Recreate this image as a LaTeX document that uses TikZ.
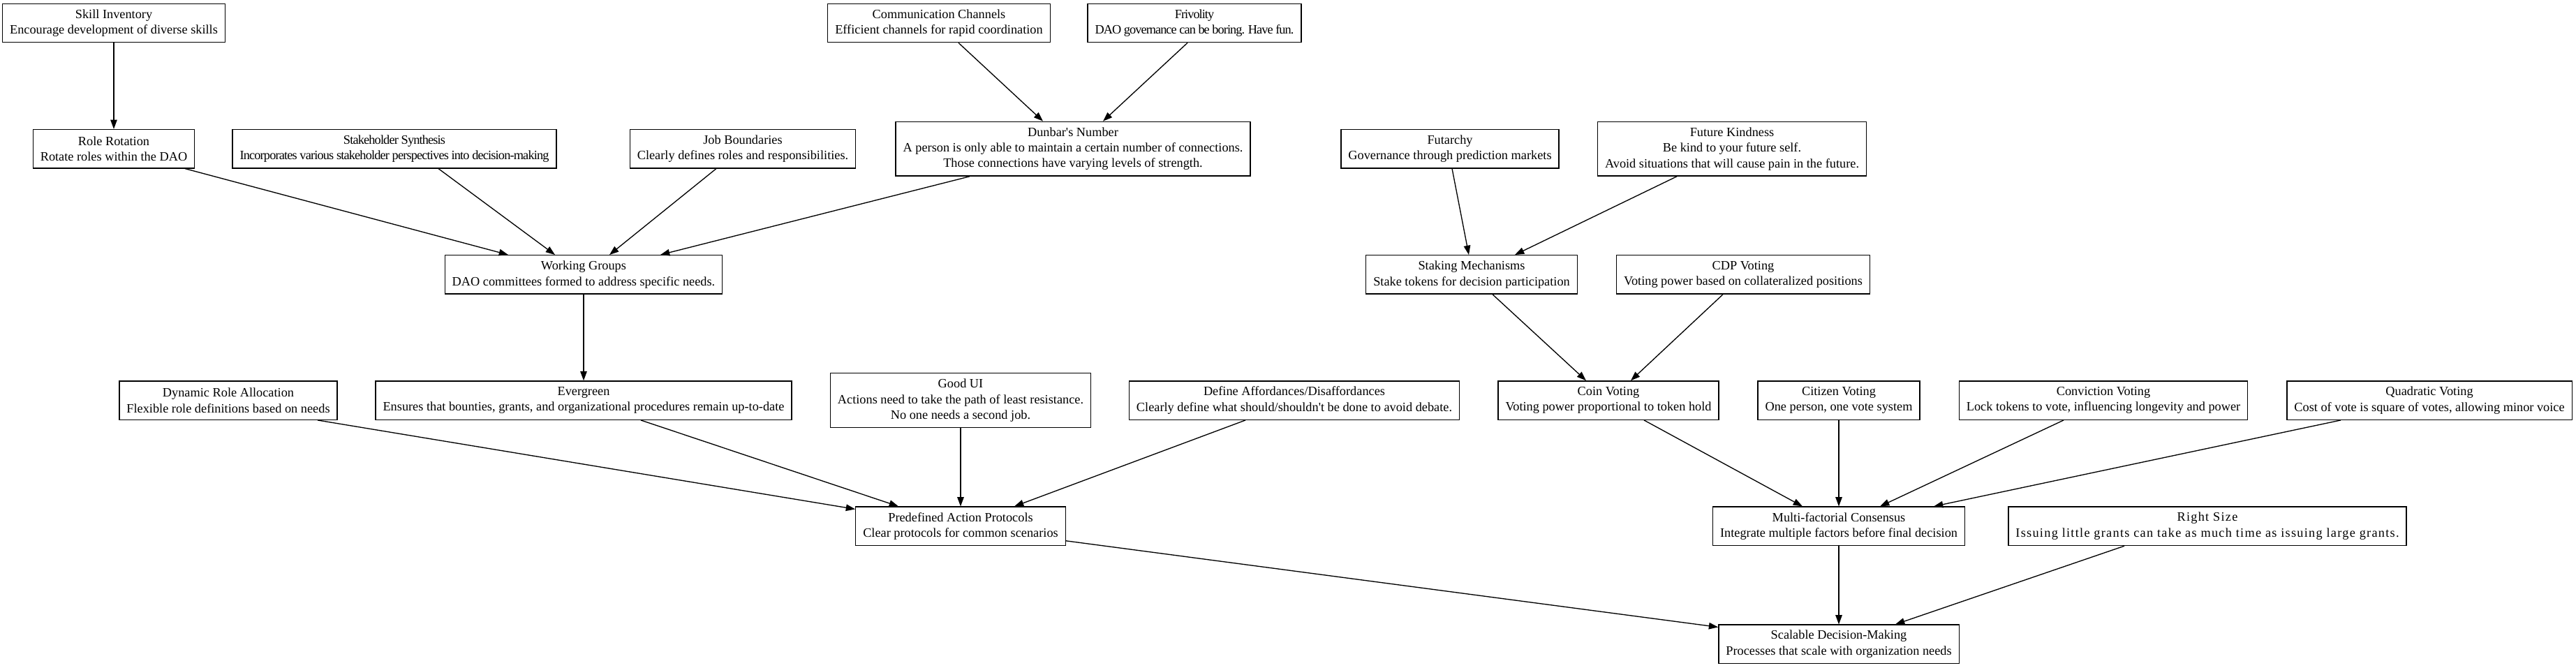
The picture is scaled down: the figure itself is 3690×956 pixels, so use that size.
\documentclass[tikz,border=0pt]{standalone}
\usepackage{fontspec}
\setmainfont{Liberation Serif}[Ligatures=TeXOff]
\usetikzlibrary{arrows.meta}
\begin{document}
\begin{tikzpicture}[x=1pt,y=-1pt,
  box/.style={draw, line width=1.33pt, font=\fontsize{18.3pt}{22.4pt}\selectfont, align=center, inner xsep=10.5pt, inner ysep=5pt, minimum height=55.4pt},
  tall/.style={minimum height=77.8pt},
  track/.style={font=\fontsize{18.3pt}{22.4pt}\selectfont\addfontfeatures{LetterSpace=#1}},
  arr/.style={-{Triangle[length=13.3pt,width=9.5pt]}, line width=1.33pt}]
\fill[white] (0,0) rectangle (3690,956);
\useasboundingbox (0,0) rectangle (3690,956);
% rank 0
\node[box] (si) at (163,33) {Skill Inventory\\Encourage development of diverse skills};
\node[box] (cc) at (1345,33) {Communication Channels\\Efficient channels for rapid coordination};
\node[box,track=-5.2] (fr) at (1711,33) {Frivolity\\DAO governance can be boring. Have fun.};
% rank 1
\node[box] (rr) at (163,213.2) {Role Rotation\\Rotate roles within the DAO};
\node[box,track=-4.6] (ss) at (565,213.2) {Stakeholder Synthesis\\Incorporates various stakeholder perspectives into decision-making};
\node[box] (jb) at (1064,213.2) {Job Boundaries\\Clearly defines roles and responsibilities.};
\node[box,tall] (dn) at (1537,213.2) {Dunbar's Number\\A person is only able to maintain a certain number of connections.\\Those connections have varying levels of strength.};
\node[box] (fu) at (2077,213.2) {Futarchy\\Governance through prediction markets};
\node[box,tall] (fk) at (2481,213.2) {Future Kindness\\Be kind to your future self.\\Avoid situations that will cause pain in the future.};
% rank 2
\node[box] (wg) at (836,393.4) {Working Groups\\DAO committees formed to address specific needs.};
\node[box] (sm) at (2108,393.4) {Staking Mechanisms\\Stake tokens for decision participation};
\node[box] (cdp) at (2497,393.4) {CDP Voting\\Voting power based on collateralized positions};
% rank 3
\node[box] (dra) at (327,573.6) {Dynamic Role Allocation\\Flexible role definitions based on needs};
\node[box] (ev) at (836,573.6) {Evergreen\\Ensures that bounties, grants, and organizational procedures remain up-to-date};
\node[box,tall] (gui) at (1376,573.6) {Good UI\\Actions need to take the path of least resistance.\\No one needs a second job.};
\node[box] (da) at (1854,573.6) {Define Affordances/Disaffordances\\Clearly define what should/shouldn't be done to avoid debate.};
\node[box] (cv) at (2304,573.6) {Coin Voting\\Voting power proportional to token hold};
\node[box] (civ) at (2634,573.6) {Citizen Voting\\One person, one vote system};
\node[box] (conv) at (3013,573.6) {Conviction Voting\\Lock tokens to vote, influencing longevity and power};
\node[box] (qv) at (3480,573.6) {Quadratic Voting\\Cost of vote is square of votes, allowing minor voice};
% rank 4
\node[box] (pap) at (1376,753.8) {Predefined Action Protocols\\Clear protocols for common scenarios};
\node[box] (mc) at (2634,753.8) {Multi-factorial Consensus\\Integrate multiple factors before final decision};
\node[box,track=6.9] (rs) at (3162,753.8) {Right Size\\Issuing little grants can take as much time as issuing large grants.};
% rank 5
\node[box] (sdm) at (2634,922.8) {Scalable Decision-Making\\Processes that scale with organization needs};
% edges
\draw[arr] (si.south) -- (rr.north);
\draw[arr] ([xshift=102pt]rr.south) -- ([xshift=-108pt]wg.north);
\draw[arr] ([xshift=63pt]ss.south) -- ([xshift=-41pt]wg.north);
\draw[arr] ([xshift=-38pt]jb.south) -- ([xshift=37pt]wg.north);
\draw[arr] ([xshift=-148pt]dn.south) -- ([xshift=110pt]wg.north);
\draw[arr] ([xshift=28pt]cc.south) -- ([xshift=-43pt]dn.north);
\draw[arr] ([xshift=-10pt]fr.south) -- ([xshift=43pt]dn.north);
\draw[arr] ([xshift=3pt]fu.south) -- ([xshift=-4pt]sm.north);
\draw[arr] ([xshift=-79pt]fk.south) -- ([xshift=62pt]sm.north);
\draw[arr] (wg.south) -- (ev.north);
\draw[arr] ([xshift=30pt]sm.south) -- ([xshift=-32pt]cv.north);
\draw[arr] ([xshift=-29pt]cdp.south) -- ([xshift=32pt]cv.north);
\draw[arr] ([xshift=128pt]dra.south) -- ([yshift=-4pt]pap.north west);
\draw[arr] ([xshift=82pt]ev.south) -- ([xshift=-89pt]pap.north);
\draw[arr] (gui.south) -- (pap.north);
\draw[arr] ([xshift=-70pt]da.south) -- ([xshift=77pt]pap.north);
\draw[arr] ([xshift=51pt]cv.south) -- ([xshift=-52pt]mc.north);
\draw[arr] (civ.south) -- (mc.north);
\draw[arr] ([xshift=-57pt]conv.south) -- ([xshift=59pt]mc.north);
\draw[arr] ([xshift=-127pt]qv.south) -- ([xshift=136pt]mc.north);
\draw[arr] ([yshift=-21pt]pap.east) -- ([yshift=-4pt]sdm.north west);
\draw[arr] (mc.south) -- (sdm.north);
\draw[arr] ([xshift=-119pt]rs.south) -- ([xshift=81pt]sdm.north);
\end{tikzpicture}
\end{document}
